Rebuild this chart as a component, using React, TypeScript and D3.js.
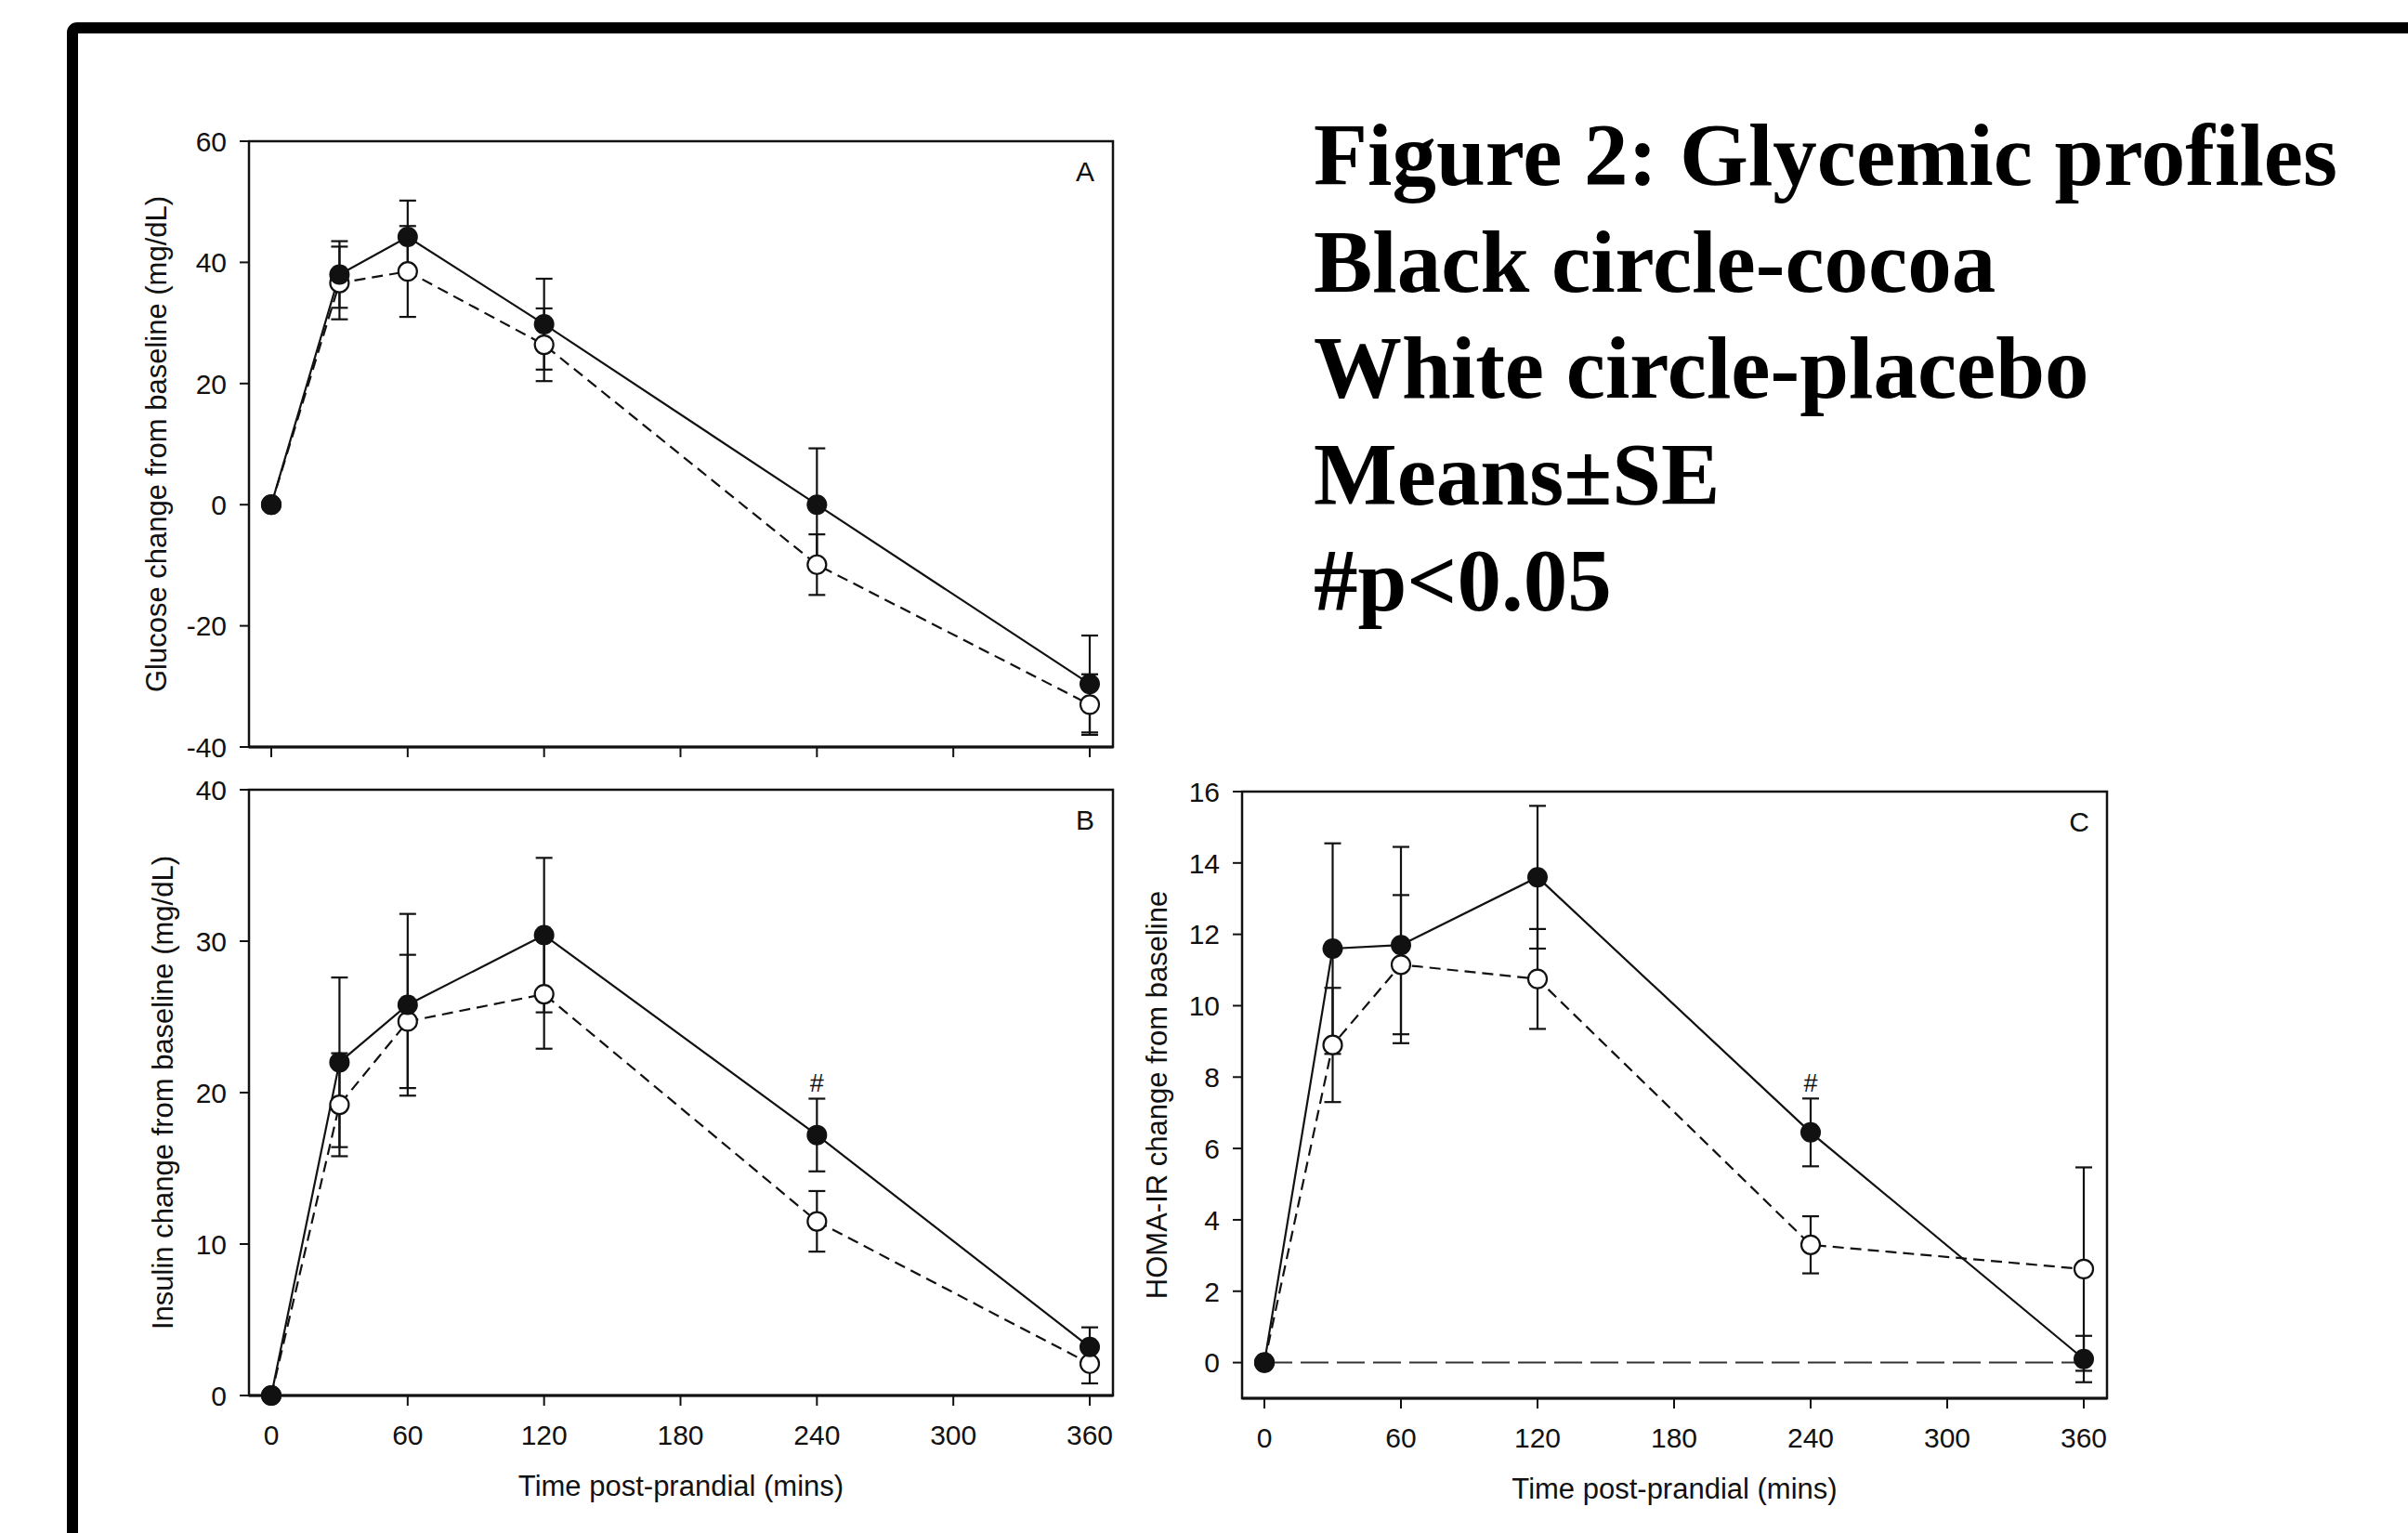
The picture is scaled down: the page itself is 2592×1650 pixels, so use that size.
import React from "react";
import * as d3 from "d3";

// sampling times (mins) and x-axis ticks
const TIMES = [0, 30, 60, 120, 240, 360];
const X_TICKS = [0, 60, 120, 180, 240, 300, 360];

// Panel A – glucose
const GLU_COCOA = [0, 38, 44.2, 29.8, 0, -29.6];
const GLU_COCOA_SE = [0, 5.5, 6, 7.5, 9.3, 8];
const GLU_PLACEBO = [0, 36.6, 38.5, 26.4, -9.9, -33];
const GLU_PLACEBO_SE = [0, 6, 7.5, 6, 5, 5];
const GLU_TICKS = [-40, -20, 0, 20, 40, 60];

// Panel B – insulin
const INS_COCOA = [0, 22, 25.8, 30.4, 17.2, 3.2];
const INS_COCOA_SE = [0, 5.6, 6, 5.1, 2.4, 1.3];
const INS_PLACEBO = [0, 19.2, 24.7, 26.5, 11.5, 2.1];
const INS_PLACEBO_SE = [0, 3.4, 4.4, 3.6, 2.0, 1.3];
const INS_TICKS = [0, 10, 20, 30, 40];

// Panel C – HOMA-IR
const HOMA_COCOA = [0, 11.6, 11.7, 13.6, 6.45, 0.1];
const HOMA_COCOA_SE = [0, 2.95, 2.75, 2.0, 0.95, 0.65];
const HOMA_PLACEBO = [0, 8.9, 11.15, 10.75, 3.3, 2.62];
const HOMA_PLACEBO_SE = [0, 1.6, 1.95, 1.4, 0.8, 2.85];
const HOMA_TICKS = [0, 2, 4, 6, 8, 10, 12, 14, 16];

const SIG_TIME = 240;
const CAPTION = [
  "Figure 2: Glycemic profiles",
  "Black circle-cocoa",
  "White circle-placebo",
  "Means\u00b1SE",
  "#p<0.05",
];

const SANS = "'Liberation Sans', Arial, sans-serif";
const SERIF = "'Liberation Serif', 'Times New Roman', serif";
const INK = "#111";

type Box = { left: number; right: number; top: number; bottom: number };

function Panel(props: {
  box: Box;
  yDomain: [number, number];
  yTicks: number[];
  cocoa: number[];
  cocoaSE: number[];
  placebo: number[];
  placeboSE: number[];
  letter: string;
  yLabel: string;
  yLabelX: number;
  xLabels: boolean;
  sig?: boolean;
  zeroLine?: boolean;
}) {
  const { box, yDomain, yTicks, cocoa, cocoaSE, placebo, placeboSE } = props;
  const x = d3.scaleLinear().domain([0, 360]).range([box.left + 24, box.right - 25]);
  const y = d3.scaleLinear().domain(yDomain).range([box.bottom, box.top]);
  const line = d3.line<number>().x((_, i) => x(TIMES[i])).y(d => y(d));
  const cap = 9;

  const errBars = (vals: number[], se: number[], key: string) =>
    vals.map((v, i) => {
      if (!se[i]) return null;
      const cx = x(TIMES[i]);
      const y1 = y(v + se[i]);
      const y2 = y(v - se[i]);
      return (
        <g key={key + i} stroke={INK} strokeWidth={2.2}>
          <line x1={cx} x2={cx} y1={y1} y2={y2} />
          <line x1={cx - cap} x2={cx + cap} y1={y1} y2={y1} />
          <line x1={cx - cap} x2={cx + cap} y1={y2} y2={y2} />
        </g>
      );
    });

  const sigIdx = TIMES.indexOf(SIG_TIME);

  return (
    <g>
      {/* zero reference */}
      {props.zeroLine && (
        <line x1={x(0)} x2={x(360)} y1={y(0)} y2={y(0)}
          stroke="#333" strokeWidth={2} strokeDasharray="30,9" />
      )}

      {/* axes frame */}
      <rect x={box.left} y={box.top} width={box.right - box.left} height={box.bottom - box.top}
        fill="none" stroke={INK} strokeWidth={2.5} />
      <line x1={box.left} x2={box.right} y1={box.bottom} y2={box.bottom} stroke={INK} strokeWidth={3.2} />

      {/* y ticks */}
      {yTicks.map(t => (
        <g key={"yt" + t}>
          <line x1={box.left - 10} x2={box.left} y1={y(t)} y2={y(t)} stroke={INK} strokeWidth={2} />
          <text x={box.left - 24} y={y(t)} dy="0.36em" textAnchor="end"
            fontFamily={SANS} fontSize={30} fill={INK}>{t}</text>
        </g>
      ))}

      {/* x ticks */}
      {X_TICKS.map(t => (
        <g key={"xt" + t}>
          <line x1={x(t)} x2={x(t)} y1={box.bottom} y2={box.bottom + 11} stroke={INK} strokeWidth={2} />
          {props.xLabels && (
            <text x={x(t)} y={box.bottom + 42} dy="0.36em" textAnchor="middle"
              fontFamily={SANS} fontSize={30} fill={INK}>{t}</text>
          )}
        </g>
      ))}

      {props.xLabels && (
        <text x={(box.left + box.right) / 2} y={box.bottom + 97} dy="0.36em" textAnchor="middle"
          fontFamily={SANS} fontSize={31} fill={INK}>Time post-prandial (mins)</text>
      )}

      <text transform={`translate(${props.yLabelX},${(box.top + box.bottom) / 2}) rotate(-90)`}
        dy="0.36em" textAnchor="middle" fontFamily={SANS} fontSize={31} fill={INK}>{props.yLabel}</text>

      <text x={box.right - 30} y={box.top + 32} dy="0.36em" textAnchor="middle"
        fontFamily={SANS} fontSize={30} fill={INK}>{props.letter}</text>

      {/* series lines */}
      <path d={line(placebo) || ""} fill="none" stroke={INK} strokeWidth={2.2} strokeDasharray="12,7" />
      <path d={line(cocoa) || ""} fill="none" stroke={INK} strokeWidth={2.2} />

      {errBars(placebo, placeboSE, "pe")}
      {errBars(cocoa, cocoaSE, "ce")}

      {placebo.map((v, i) => (
        <circle key={"pm" + i} cx={x(TIMES[i])} cy={y(v)} r={10} fill="#fff" stroke={INK} strokeWidth={2.2} />
      ))}
      {cocoa.map((v, i) => (
        <circle key={"cm" + i} cx={x(TIMES[i])} cy={y(v)} r={11} fill={INK} />
      ))}

      {props.sig && (
        <text x={x(SIG_TIME)} y={y(cocoa[sigIdx] + cocoaSE[sigIdx]) - 17} dy="0.36em" textAnchor="middle"
          fontFamily={SANS} fontSize={27} fill={INK}>#</text>
      )}
    </g>
  );
}

export default function App() {
  const W = 2592;
  const H = 1650;
  return (
    <div style={{ position: "absolute", left: 0, top: 0, width: W, height: H, background: "#fff" }}>
      <svg width={W} height={H} viewBox={`0 0 ${W} ${H}`} style={{ display: "block" }}>
        <rect width={W} height={H} fill="#fff" />
        {/* outer slide frame */}
        <rect x={78} y={30} width={3000} height={3000} rx={5} fill="none" stroke="#000" strokeWidth={12} />

        <Panel
          box={{ left: 268, right: 1198, top: 152, bottom: 804 }}
          yDomain={[-40, 60]} yTicks={GLU_TICKS}
          cocoa={GLU_COCOA} cocoaSE={GLU_COCOA_SE}
          placebo={GLU_PLACEBO} placeboSE={GLU_PLACEBO_SE}
          letter="A" yLabel="Glucose change from baseline (mg/dL)" yLabelX={168}
          xLabels={false}
        />
        <Panel
          box={{ left: 268, right: 1198, top: 850, bottom: 1502 }}
          yDomain={[0, 40]} yTicks={INS_TICKS}
          cocoa={INS_COCOA} cocoaSE={INS_COCOA_SE}
          placebo={INS_PLACEBO} placeboSE={INS_PLACEBO_SE}
          letter="B" yLabel="Insulin change from baseline (mg/dL)" yLabelX={175}
          xLabels sig
        />
        <Panel
          box={{ left: 1337, right: 2268, top: 852, bottom: 1505 }}
          yDomain={[-1, 16]} yTicks={HOMA_TICKS}
          cocoa={HOMA_COCOA} cocoaSE={HOMA_COCOA_SE}
          placebo={HOMA_PLACEBO} placeboSE={HOMA_PLACEBO_SE}
          letter="C" yLabel="HOMA-IR change from baseline" yLabelX={1245}
          xLabels sig zeroLine
        />

        {CAPTION.map((s, i) => (
          <text key={s} x={1414} y={199 + i * 114.5} fontFamily={SERIF} fontWeight="bold"
            fontSize={95} fill="#000">{s}</text>
        ))}
      </svg>
    </div>
  );
}
